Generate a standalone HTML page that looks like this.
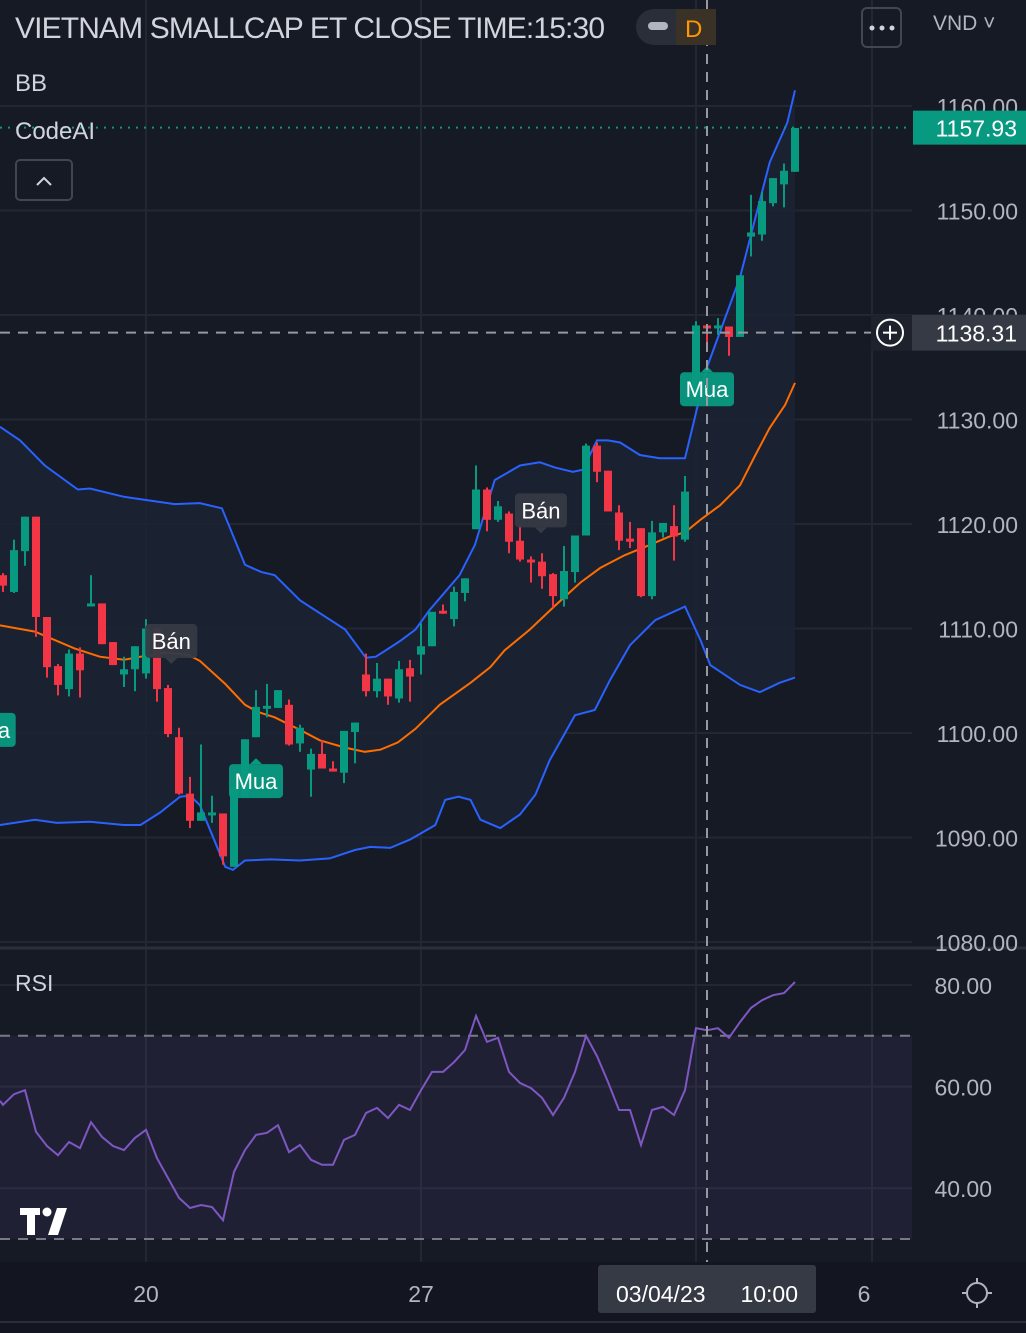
<!DOCTYPE html>
<html><head><meta charset="utf-8"><style>
html,body{margin:0;padding:0;background:#161a25;}
svg{display:block;font-family:"Liberation Sans",sans-serif;}
</style></head><body>
<svg id="chart" width="1026" height="1333" viewBox="0 0 1026 1333" xmlns="http://www.w3.org/2000/svg">
<rect x="0" y="0" width="1026" height="1333" fill="#161a25"/>
<rect x="0" y="1262" width="1026" height="71" fill="#131620"/>
<g id="grid"></g>
<g id="bands"></g>
<g id="rsi"></g>
<g id="candles"></g>
<g id="overlay"></g>
</svg>
<script>
// ---- data ----
const opens  = [1115.1,1113.5,1117.4,1120.7,1111.1,1106.4,1104.2,1107.6,1112.2,1112.4,1108.7,1105.6,1106.1,1105.7,1110.0,1104.3,1099.6,1094.2,1091.6,1092.3,1092.3,1087.2,1093.8,1099.6,1102.5,1102.4,1102.7,1099.0,1096.5,1098.0,1096.6,1096.2,1100.1,1105.6,1104.0,1105.2,1103.3,1106.2,1107.5,1108.3,1111.7,1110.9,1113.4,1119.5,1123.3,1120.4,1121.0,1118.4,1116.6,1116.4,1115.2,1112.8,1115.4,1118.9,1127.5,1125.1,1121.1,1118.6,1119.6,1113.1,1119.2,1119.8,1118.5,1132.3,1139.0,1138.9,1138.9,1137.9,1147.5,1147.7,1150.7,1152.5,1153.7];
const highs  = [1115.3,1118.5,1120.7,1120.7,1111.1,1106.6,1108.0,1108.2,1115.1,1112.4,1108.7,1107.3,1108.3,1110.9,1110.0,1104.6,1100.5,1095.8,1098.9,1094.0,1092.3,1094.8,1099.4,1104.1,1104.7,1104.1,1103.2,1100.8,1098.5,1099.3,1097.3,1100.2,1101.0,1107.6,1106.7,1105.2,1106.9,1107.0,1110.5,1108.9,1112.3,1114.0,1114.8,1125.6,1123.5,1122.2,1121.2,1119.9,1116.9,1117.2,1115.3,1117.9,1118.9,1127.7,1127.8,1125.1,1121.8,1120.2,1119.6,1120.3,1120.1,1121.8,1124.6,1139.4,1139.0,1139.7,1138.9,1143.8,1151.5,1151.8,1153.1,1154.5,1157.9];
const lows   = [1113.5,1113.4,1116.0,1109.2,1105.3,1103.6,1103.5,1103.4,1112.1,1108.5,1106.5,1104.4,1104.0,1105.2,1103.0,1099.6,1094.1,1090.9,1091.6,1091.4,1087.4,1087.2,1093.8,1099.6,1101.5,1102.4,1098.8,1098.2,1093.9,1096.6,1096.3,1095.2,1097.1,1103.5,1103.4,1102.7,1102.9,1103.0,1105.6,1108.3,1111.4,1110.2,1112.6,1119.5,1119.3,1120.2,1117.2,1116.4,1114.4,1113.8,1112.0,1112.1,1114.4,1118.9,1124.0,1121.2,1117.5,1117.7,1113.0,1112.8,1118.7,1116.5,1118.3,1131.8,1137.0,1138.1,1136.1,1137.9,1145.6,1147.1,1150.4,1150.3,1153.7];
const closes = [1114.1,1117.5,1120.7,1111.1,1106.3,1104.6,1107.6,1106.0,1112.4,1108.5,1106.5,1106.1,1108.3,1110.0,1104.2,1099.9,1094.2,1091.6,1092.4,1092.4,1088.2,1094.8,1099.4,1102.5,1102.6,1104.1,1098.9,1100.5,1098.0,1096.6,1096.5,1100.2,1101.0,1104.0,1105.2,1103.5,1106.1,1105.4,1108.3,1111.6,1111.5,1113.5,1114.8,1123.3,1120.4,1121.7,1118.3,1116.6,1116.5,1115.0,1113.1,1115.5,1118.9,1127.5,1125.0,1121.2,1118.4,1118.3,1113.1,1119.2,1120.1,1118.8,1123.1,1139.0,1138.8,1139.0,1137.9,1143.8,1147.9,1150.9,1153.1,1153.8,1157.9];
const upperIdx = [-0.27,1.55,3.8,6.8,7.9,11,13,15.6,17.9,19.9,22,23.5,24.7,27,31.1,33,33.9,36.1,37.5,38.8,41.5,42.9,44.7,47,48.8,50.2,51.8,52.7,54,55,56.1,57.9,59.7,62,64,67,69.7,71.3,72];
const upperVal = [1129.3,1128.0,1125.6,1123.3,1123.4,1122.6,1122.3,1121.9,1122.0,1121.5,1116.1,1115.4,1115.1,1112.7,1109.9,1107.2,1107.3,1108.8,1109.9,1111.8,1115.1,1118.0,1124.2,1125.6,1125.9,1125.4,1125.0,1125.2,1128.0,1128.0,1127.8,1126.6,1126.3,1126.3,1135.0,1143.6,1154.6,1158.4,1161.5];
const basisIdx = [-0.27,2.9,6.5,8.8,11,13,14.7,16.8,17.9,20.2,22,23.2,24.7,27,28.8,31.1,32.9,34.3,35.9,37.5,39.7,42.5,44.3,45.6,47.9,50.2,52.5,54.3,56.5,58.8,60.6,62,63.4,65.2,67,68.4,69.7,71.1,72];
const basisVal = [1110.3,1109.7,1108.1,1107.3,1107.0,1107.4,1107.7,1107.5,1106.9,1104.7,1102.7,1102.0,1101.5,1100.3,1099.3,1098.6,1098.2,1098.4,1099.1,1100.4,1102.7,1104.8,1106.3,1107.9,1109.9,1112.2,1114.4,1115.8,1117.0,1118.0,1118.8,1119.2,1120.4,1121.8,1123.7,1126.6,1129.2,1131.4,1133.5];
const lowerIdx = [-0.27,2.9,4.9,7.9,11,12.5,14.3,16.1,17,17.9,20.2,20.9,22,24.3,27,29.7,32,33.4,35.2,37,39.3,40.2,41.4,42.5,43.4,45.2,47,48.4,49.7,52,53.8,55.2,57,59.3,62,63.4,64.3,67,68.8,70.6,72];
const lowerVal = [1091.2,1091.7,1091.4,1091.5,1091.2,1091.2,1092.4,1093.9,1094.0,1093.1,1087.2,1086.9,1087.8,1087.9,1087.8,1088.0,1088.8,1089.1,1089.0,1089.8,1091.2,1093.6,1093.9,1093.6,1091.7,1090.9,1092.2,1094.1,1097.4,1101.7,1102.2,1105.1,1108.4,1110.8,1112.1,1108.9,1106.5,1104.6,1103.9,1104.8,1105.3];
const rsiVals = [56.4,58.5,59.3,51.1,48.3,46.5,49.1,47.9,53.0,50.1,48.3,47.5,49.9,51.5,45.9,42.0,38.1,36.1,36.7,36.3,33.7,43.2,47.5,50.5,50.9,52.4,47.1,48.5,45.6,44.6,44.6,49.5,50.5,54.8,55.8,53.8,56.4,55.4,59.3,62.9,62.9,64.8,67.2,73.9,68.8,69.6,62.9,60.7,59.7,57.8,54.4,57.8,62.9,70.0,66.0,60.9,55.4,55.4,48.5,55.4,56.0,54.4,59.3,71.5,71.1,71.5,69.6,72.7,75.5,77.0,78.0,78.4,80.6];
const priceTicks = [1160,1150,1140,1130,1120,1110,1100,1090,1080];
const rsiTicks = [80,60,40];
const timeLabels = ["20","27","6"];
const timeLabelIdx = [13,38,79];
const signalLabels = ["Mua","Bán","Mua","Bán","Mua"];
const signalIdx = [-1.3,15.3,23,48.9,64];
const signalPrice = [1100.3,1108.8,1095.4,1121.3,1132.9];
const lastPrice = 1157.93, crossPrice = 1138.31, crossIdx = 64;

// ---- axes ----
const NS="http://www.w3.org/2000/svg";
const X = i => 3 + 11*i;
const Y = p => 106 + (1160-p)*10.45;
const RY = v => 985 + (80-v)*5.08;
function el(tag, attrs, parent, text){
  const e=document.createElementNS(NS,tag);
  for(const k in attrs) e.setAttribute(k,attrs[k]);
  if(text!==undefined) e.textContent=text;
  parent.appendChild(e); return e;
}
const grid=document.getElementById('grid'), bands=document.getElementById('bands'),
 rsiG=document.getElementById('rsi'), cg=document.getElementById('candles'), ov=document.getElementById('overlay');

priceTicks.forEach(p=>{
  const l=el('line',{x1:0,x2:912,y1:Y(p),y2:Y(p),stroke:'#232733','stroke-width':2},grid);
   
});
rsiTicks.forEach(v=>{
  const l=el('line',{x1:0,x2:912,y1:RY(v),y2:RY(v),stroke:'#232733','stroke-width':2},grid);
   
});
[146,421,696,872].forEach(x=>{
  const l=el('line',{x1:x,x2:x,y1:0,y2:1262,stroke:'#232733','stroke-width':2},grid);
   
});
const sep=el('line',{x1:0,x2:1026,y1:948,y2:948,stroke:'#2a2e39','stroke-width':3},grid);
 
const bl=el('line',{x1:0,x2:1026,y1:1322,y2:1322,stroke:'#2a2e39','stroke-width':2},grid);
 

const pts=(idxs,vals)=>idxs.map((t,k)=>`${X(t).toFixed(1)},${Y(vals[k]).toFixed(1)}`);
const fill=el('polygon',{points:pts(upperIdx,upperVal).concat(pts(lowerIdx,lowerVal).reverse()).join(' '),fill:'#1b2334','fill-opacity':0.85},bands);
 
const up=el('polyline',{points:pts(upperIdx,upperVal).join(' '),fill:'none',stroke:'#2962ff','stroke-width':2},bands);
 
const md=el('polyline',{points:pts(basisIdx,basisVal).join(' '),fill:'none',stroke:'#ff6d00','stroke-width':2},bands);
 
const lo=el('polyline',{points:pts(lowerIdx,lowerVal).join(' '),fill:'none',stroke:'#2962ff','stroke-width':2},bands);
 

const rb=el('rect',{x:0,y:RY(70),width:912,height:RY(30)-RY(70),fill:'#7e57c2','fill-opacity':0.1},rsiG);
 
[70,30].forEach(v=>{
  const l=el('line',{x1:0,x2:912,y1:RY(v),y2:RY(v),stroke:'#787b86','stroke-width':2,'stroke-dasharray':'10 8'},rsiG);
   
});
const rl=el('polyline',{points:[`0,${RY(rsiVals[0]+0.8)}`].concat(rsiVals.map((v,i)=>`${X(i)},${RY(v).toFixed(1)}`)).join(' '),fill:'none',stroke:'#7e57c2','stroke-width':2},rsiG);
 

closes.forEach((c,i)=>{
  const o=opens[i], isUp=c>=o, col=isUp?'#089981':'#f23645';
  const g=el('g',{},cg);
   
  const w=el('line',{x1:X(i),x2:X(i),y1:Y(highs[i]),y2:Y(lows[i]),stroke:col,'stroke-width':2},g);
   
  const top=Y(Math.max(o,c)), h=Math.max(3,Y(Math.min(o,c))-top);
  const b=el('rect',{x:X(i)-4,y:top,width:8,height:h,fill:col},g);
   
});

signalLabels.forEach((s,k)=>{
  const buy=s==='Mua', cx=X(signalIdx[k]), cy=Y(signalPrice[k]);
  const g=el('g',{},ov);
   
  const w=buy?54:52;
  el('rect',{x:cx-w/2,y:cy-17,width:w,height:34,rx:4,fill:buy?'#089981':'#363a45','fill-opacity':0.95},g);
  if(buy) el('polygon',{points:`${cx-6},${cy-17} ${cx},${cy-23} ${cx+6},${cy-17}`,fill:'#089981'},g);
  else el('polygon',{points:`${cx-6},${cy+17} ${cx},${cy+23} ${cx+6},${cy+17}`,fill:'#363a45'},g);
  el('text',{x:cx,y:cy+8,'text-anchor':'middle','font-size':22,fill:'#ffffff'},g,s);
});

const cx=X(crossIdx), cyy=Y(crossPrice);
const vh=el('line',{x1:cx,x2:cx,y1:0,y2:1262,stroke:'#9598a1','stroke-width':2,'stroke-dasharray':'10 8'},ov);
 
const hh=el('line',{x1:0,x2:912,y1:cyy,y2:cyy,stroke:'#9598a1','stroke-width':2,'stroke-dasharray':'10 8'},ov);
 
const lp=el('line',{x1:0,x2:912,y1:Y(lastPrice),y2:Y(lastPrice),stroke:'#089981','stroke-width':2,'stroke-dasharray':'2 6'},ov);
 

priceTicks.forEach(p=>{
  const t=el('text',{x:1018,y:Y(p)+9,'text-anchor':'end','font-size':23,fill:'#b2b5be'},ov,p.toFixed(2));
   
});
rsiTicks.forEach(v=>{
  const t=el('text',{x:992,y:RY(v)+9,'text-anchor':'end','font-size':23,fill:'#b2b5be'},ov,v.toFixed(2));
   
});
const lpl=el('g',{},ov);  
el('rect',{x:913,y:Y(lastPrice)-17,width:113,height:34,fill:'#089981'},lpl);
el('text',{x:1017,y:Y(lastPrice)+9,'text-anchor':'end','font-size':23,fill:'#ffffff'},lpl,lastPrice.toFixed(2));
const cpl=el('g',{},ov);  
el('rect',{x:912,y:cyy-18,width:114,height:36,fill:'#363a45'},cpl);
el('text',{x:1017,y:cyy+9,'text-anchor':'end','font-size':23,fill:'#ffffff'},cpl,crossPrice.toFixed(2));
const plus=el('g',{},ov);  
el('rect',{x:871,y:cyy-18,width:41,height:36,fill:'#1e222d'},plus);
el('circle',{cx:890,cy:cyy,r:13,fill:'none',stroke:'#ffffff','stroke-width':2},plus);
el('line',{x1:883,x2:897,y1:cyy,y2:cyy,stroke:'#fff','stroke-width':2},plus);
el('line',{x1:890,x2:890,y1:cyy-7,y2:cyy+7,stroke:'#fff','stroke-width':2},plus);

timeLabels.forEach((s,k)=>{
  const t=el('text',{x:X(timeLabelIdx[k])+(k==2?-8:0),y:1302,'text-anchor':'middle','font-size':23,fill:'#b2b5be'},ov,s);
   
});
const tl=el('g',{},ov);  
el('rect',{x:598,y:1265,width:218,height:48,rx:3,fill:'#363a45'},tl);
el('text',{x:616,y:1302,'font-size':23,fill:'#ffffff'},tl,'03/04/23');
el('text',{x:798,y:1302,'text-anchor':'end','font-size':23,fill:'#ffffff'},tl,'10:00');
</script>
<svg style="position:absolute;left:0;top:0" width="1026" height="1333" xmlns="http://www.w3.org/2000/svg">
<text x="15" y="38" font-size="30" fill="#d1d4dc" textLength="590" font-family="Liberation Sans, sans-serif">VIETNAM SMALLCAP ET CLOSE TIME:15:30</text>
<g>
<rect x="636" y="9" width="80" height="36" rx="18" fill="#2a2e39"/>
<rect x="676" y="9" width="40" height="36" fill="#3a3226"/>
<rect x="648" y="22" width="20" height="8" rx="4" fill="#b2b5be"/>
<text x="685" y="37" font-size="24" fill="#ff9800" font-family="Liberation Sans, sans-serif">D</text>
</g>
<g>
<rect x="862" y="8" width="39" height="39" rx="5" fill="none" stroke="#434651" stroke-width="2"/>
<circle cx="872" cy="28" r="2.5" fill="#d1d4dc"/><circle cx="882" cy="28" r="2.5" fill="#d1d4dc"/><circle cx="892" cy="28" r="2.5" fill="#d1d4dc"/>
</g>
<text x="933" y="30" font-size="21" fill="#b2b5be" font-family="Liberation Sans, sans-serif">VND ˅</text>
<text x="15" y="91" font-size="24" fill="#d1d4dc" font-family="Liberation Sans, sans-serif">BB</text>
<text x="15" y="139" font-size="24" fill="#d1d4dc" font-family="Liberation Sans, sans-serif">CodeAI</text>
<g>
<rect x="16" y="160" width="56" height="40" rx="4" fill="none" stroke="#434651" stroke-width="2"/>
<polyline points="37,185 44,178 51,185" fill="none" stroke="#d1d4dc" stroke-width="2"/>
</g>
<text x="15" y="991" font-size="23" fill="#d1d4dc" font-family="Liberation Sans, sans-serif">RSI</text>
<g>
<rect x="20" y="1208" width="20" height="7" fill="#fff"/><rect x="27" y="1208" width="8" height="27" fill="#fff"/>
<circle cx="47" cy="1212" r="4.5" fill="#fff"/>
<polygon points="57,1208 67,1208 58,1235 48,1235" fill="#fff"/>
</g>
<g>
<circle cx="977" cy="1293" r="10" fill="none" stroke="#b2b5be" stroke-width="2"/>
<line x1="977" y1="1278" x2="977" y2="1283" stroke="#b2b5be" stroke-width="2"/>
<line x1="977" y1="1303" x2="977" y2="1308" stroke="#b2b5be" stroke-width="2"/>
<line x1="962" y1="1293" x2="967" y2="1293" stroke="#b2b5be" stroke-width="2"/>
<line x1="987" y1="1293" x2="992" y2="1293" stroke="#b2b5be" stroke-width="2"/>
</g>
</svg>
</body></html>
